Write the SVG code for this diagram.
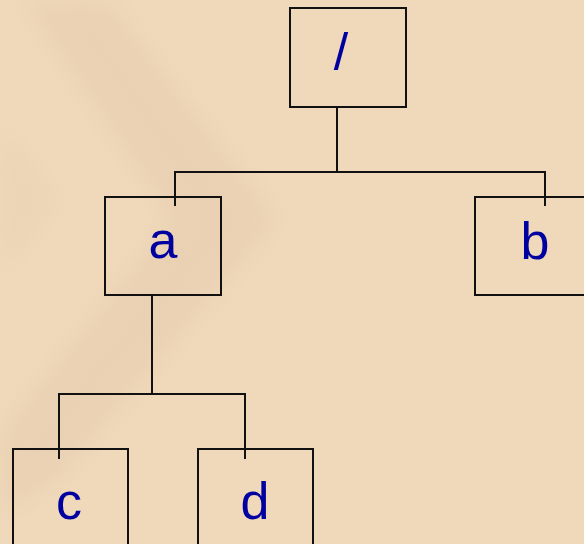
<svg xmlns="http://www.w3.org/2000/svg" width="584" height="544" viewBox="0 0 584 544">
<defs>
<filter id="soft" x="-20%" y="-20%" width="140%" height="140%"><feGaussianBlur stdDeviation="12"/></filter>
</defs>
<style>
.box{fill:none;stroke:#111;stroke-width:2}
.lbl{font-family:"Liberation Sans",Arial,sans-serif;font-size:52px;fill:#0000A0;text-anchor:middle}
.conn line,.conn polyline{stroke:#111;stroke-width:2;fill:none}
</style>
<rect width="584" height="544" fill="#F0D9BA"/>
<g id="background" opacity="0.4" filter="url(#soft)">
<polygon points="20,0 110,0 280,220 60,480 0,520 0,430 170,220" fill="#E2C6AA"/>
<polygon points="0,120 60,200 0,280" fill="#E6CCB0"/>
</g>
<g class="conn" id="connectors">
<line x1="337" y1="107" x2="337" y2="172"/>
<polyline points="175,206 175,172 545,172 545,206"/>
<line x1="152" y1="295" x2="152" y2="394"/>
<polyline points="59,459 59,394 245,394 245,459"/>
</g>
<g id="node-root"><rect class="box" x="290" y="8" width="116" height="99"/><text class="lbl" x="341" y="70">/</text></g>
<g id="node-a"><rect class="box" x="105" y="197" width="116" height="98"/><text class="lbl" x="163" y="258">a</text></g>
<g id="node-b"><rect class="box" x="475" y="197" width="116" height="98"/><text class="lbl" x="535" y="259">b</text></g>
<g id="node-c"><rect class="box" x="13" y="449" width="115" height="100"/><text class="lbl" x="69" y="519">c</text></g>
<g id="node-d"><rect class="box" x="198" y="449" width="115" height="100"/><text class="lbl" x="255" y="519">d</text></g>
</svg>
